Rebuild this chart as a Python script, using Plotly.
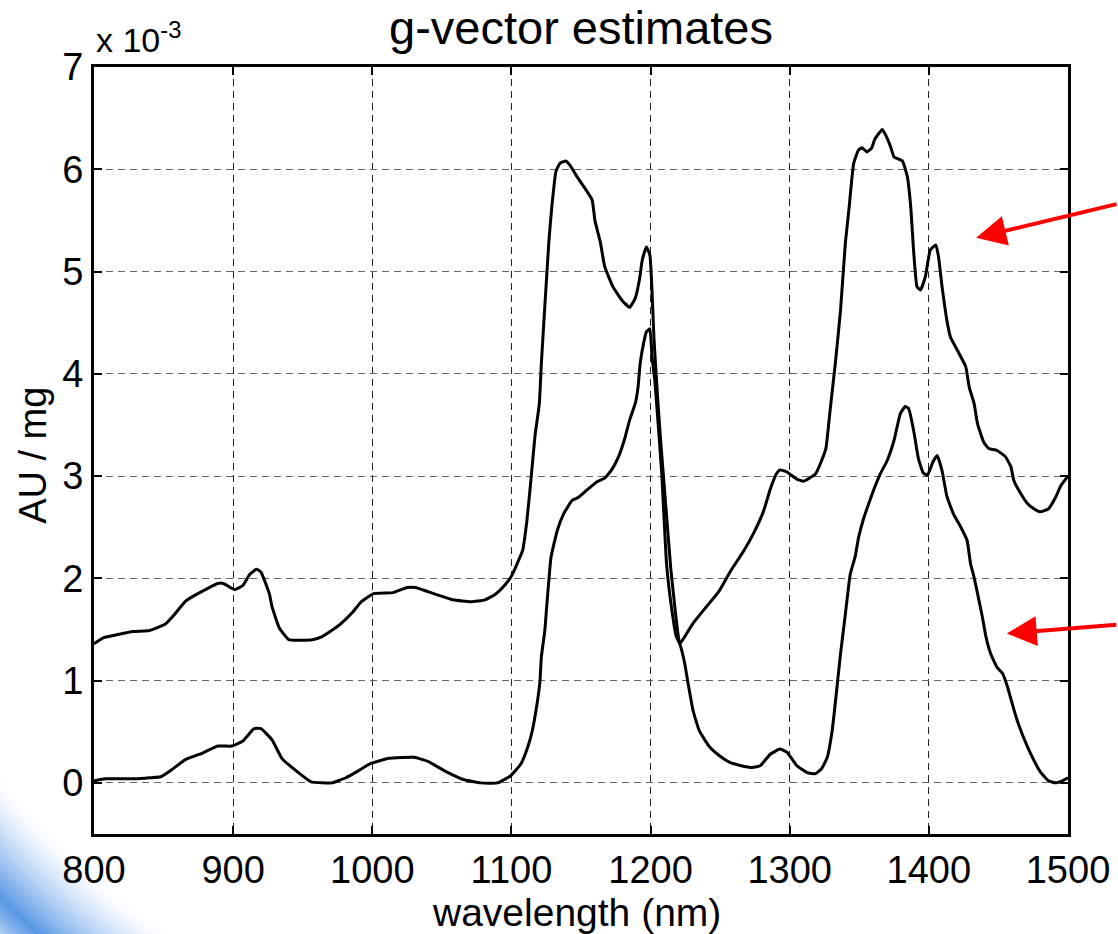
import math
import plotly.graph_objects as go

# ---- data (AU/mg, in units of 1e-3) ----
wl_upper = [800, 807, 817, 828, 840, 851, 858, 866, 876, 889, 893, 901, 907, 912, 917, 920, 926, 928, 933, 940,
            957, 964, 976, 986, 992, 1001, 1015, 1025, 1031, 1040, 1058, 1071, 1081, 1088, 1095, 1099.5, 1104, 1108,
            1111, 1114, 1117, 1120, 1121.5, 1124, 1127, 1129, 1132, 1135, 1139, 1142, 1147, 1152, 1158, 1160, 1164,
            1167, 1173, 1180, 1185, 1189, 1192, 1194, 1197, 1199.5, 1201, 1202.5, 1205.5, 1207.5, 1211, 1214.5, 1218,
            1221, 1225, 1230.5, 1240, 1249.5, 1257, 1267, 1274, 1281, 1286, 1290, 1293, 1298, 1305, 1310, 1318.5,
            1322, 1326, 1329, 1333, 1336.5, 1340, 1342.5, 1346, 1349.5, 1352, 1355.5, 1359, 1361, 1364, 1366.5,
            1369.5, 1372.5, 1375, 1381, 1384.5, 1387, 1389, 1391.5, 1394, 1397.5, 1401, 1405, 1407, 1409.5, 1413,
            1415.5, 1420.5, 1426.5, 1429, 1432.5, 1435, 1439.5, 1443, 1449, 1455, 1459, 1461, 1466, 1471, 1475.5,
            1480, 1486, 1491, 1495, 1500]
g_upper = [1.36, 1.42, 1.45, 1.48, 1.49, 1.55, 1.65, 1.78, 1.86, 1.95, 1.95, 1.89, 1.93, 2.04, 2.09, 2.06, 1.85, 1.72,
           1.52, 1.40, 1.40, 1.43, 1.54, 1.67, 1.77, 1.85, 1.86, 1.91, 1.91, 1.87, 1.79, 1.77, 1.79, 1.84, 1.93, 2.01,
           2.14, 2.27, 2.55, 2.96, 3.40, 3.70, 4.10, 4.66, 5.31, 5.63, 5.98, 6.06, 6.08, 6.04, 5.93, 5.83, 5.70, 5.50,
           5.28, 5.05, 4.85, 4.71, 4.65, 4.74, 4.92, 5.11, 5.24, 5.16, 4.82, 4.33, 3.68, 3.30, 2.70, 2.10, 1.65, 1.36,
           1.44, 1.56, 1.72, 1.88, 2.06, 2.27, 2.44, 2.65, 2.87, 3.01, 3.06, 3.04, 2.97, 2.95, 3.02, 3.12, 3.27, 3.64,
           4.13, 4.62, 5.28, 5.60, 6.06, 6.19, 6.21, 6.17, 6.21, 6.29, 6.35, 6.39, 6.32, 6.22, 6.12, 6.08, 5.93, 5.63,
           5.21, 4.85, 4.82, 4.95, 5.21, 5.26, 5.14, 4.85, 4.52, 4.36, 4.23, 4.07, 3.87, 3.71, 3.51, 3.33, 3.27, 3.25,
           3.19, 3.09, 2.96, 2.83, 2.73, 2.68, 2.65, 2.68, 2.79, 2.91, 3.00]

wl_lower = [800, 808, 817, 830, 840, 848, 856, 866, 876, 889, 899, 907, 915, 920, 928, 935, 946, 956, 964, 971, 981,
            989, 999, 1012, 1030, 1040, 1053, 1066, 1078, 1090, 1099.5, 1107, 1111.5, 1115, 1118.5, 1120.5, 1121.5,
            1124, 1125.5, 1127, 1128.5, 1133, 1137.5, 1143.5, 1148, 1154, 1161, 1167, 1172, 1177, 1181.5, 1185, 1189,
            1191, 1192.5, 1195, 1197, 1199.5, 1201, 1203, 1205.5, 1208, 1211.5, 1215, 1218.5, 1221, 1224.5, 1227,
            1230.5, 1235, 1242.5, 1250, 1257, 1264.5, 1273, 1279, 1286, 1293, 1298, 1305, 1312.5, 1318.5, 1323, 1327,
            1330.5, 1333, 1336.5, 1340, 1343.5, 1347, 1349.5, 1353, 1356, 1360.5, 1365, 1370, 1375, 1379.5, 1383,
            1385.5, 1389, 1392.5, 1396, 1399, 1403, 1406, 1409.5, 1413, 1418, 1423, 1427.5, 1430, 1432.5, 1435,
            1438.5, 1441, 1444.5, 1449, 1453, 1456.5, 1460, 1463.5, 1467, 1471, 1475.5, 1480, 1486, 1491, 1496, 1500]
g_lower = [0.02, 0.04, 0.04, 0.04, 0.05, 0.06, 0.13, 0.23, 0.28, 0.36, 0.36, 0.41, 0.53, 0.53, 0.42, 0.24, 0.11, 0.01,
           0.0, 0.0, 0.05, 0.11, 0.19, 0.24, 0.25, 0.21, 0.11, 0.03, 0.0, 0.0, 0.07, 0.19, 0.34, 0.51, 0.78, 0.99,
           1.23, 1.49, 1.75, 2.00, 2.21, 2.47, 2.63, 2.76, 2.79, 2.86, 2.94, 2.98, 3.06, 3.19, 3.37, 3.55, 3.71, 3.87,
           4.10, 4.30, 4.41, 4.44, 4.17, 3.94, 3.50, 3.03, 2.14, 1.72, 1.43, 1.36, 1.17, 0.97, 0.71, 0.51, 0.35, 0.26,
           0.20, 0.17, 0.15, 0.17, 0.28, 0.33, 0.30, 0.17, 0.10, 0.09, 0.14, 0.25, 0.51, 0.81, 1.26, 1.65, 2.04, 2.21,
           2.40, 2.58, 2.70, 2.87, 3.02, 3.15, 3.35, 3.61, 3.68, 3.66, 3.45, 3.17, 3.03, 3.01, 3.14, 3.20, 3.05, 2.80,
           2.62, 2.50, 2.37, 2.14, 2.01, 1.85, 1.62, 1.43, 1.26, 1.13, 1.07, 0.94, 0.77, 0.61, 0.48, 0.35, 0.22, 0.11,
           0.02, 0.0, 0.02, 0.05]

x_ticks = [800, 900, 1000, 1100, 1200, 1300, 1400, 1500]
y_ticks = [0, 1, 2, 3, 4, 5, 6, 7]

title_text = "g-vector estimates"
xlabel = "wavelength (nm)"
ylabel = "AU / mg"
exp_label = "x 10<sup>-3</sup>"

# arrow targets (data coords) : tip positions pointing at each curve
arrow_tips = [(1434, 5.33), (1456, 1.46)]
arrow_tails_px = [(142, -34), (111, -9)]

FONT = "Liberation Sans, Arial, Helvetica, sans-serif"
W, H = 1118, 934
L, R, T, B = 94, 50, 67, 100

fig = go.Figure()
for wl, g in [(wl_upper, g_upper), (wl_lower, g_lower)]:
    fig.add_trace(go.Scatter(x=wl, y=g, mode="lines",
                             line=dict(color="black", width=3, shape="spline", smoothing=0.4),
                             showlegend=False, hoverinfo="skip"))

axis_common = dict(showline=True, linecolor="black", linewidth=3, mirror="ticks",
                   ticks="inside", ticklen=8, tickwidth=2, tickcolor="black", automargin=False,
                   showgrid=True, griddash="7px,5px", gridwidth=1, zeroline=False,
                   tickfont=dict(family=FONT, size=38, color="black"))

fig.update_xaxes(range=[800, 1500], tickvals=x_ticks, gridcolor="#222", **axis_common)
fig.update_yaxes(range=[-0.5, 7], tickvals=y_ticks, gridcolor="#666", **axis_common)


def px2paper(px, py):
    return (px - L) / (W - L - R), (H - B - py) / (H - T - B)


# decorative slide swoosh (bottom-left): concentric thin opaque annular bands
cx, cy = 600.0, 300.0
r0, r1, dr = 764, 884, 3
rpk = 845
th = [math.radians(a) for a in [108 + i * 1.0 for i in range(46)]]
blue = (70, 140, 226)
r = r0
while r < r1:
    if r < rpk:
        a = 0.9 * ((r - r0) / (rpk - r0)) ** 1.4
    else:
        a = 0.9 * max(0.0, 1 - (r - rpk) / (r1 - rpk)) ** 0.7
    c = tuple(int(round(255 * (1 - a) + blue[k] * a)) for k in range(3))
    pts = [(cx + r * math.cos(q), cy + r * math.sin(q)) for q in th]
    pts += [(cx + (r + dr + 1.0) * math.cos(q), cy + (r + dr + 1.0) * math.sin(q)) for q in reversed(th)]
    pp = [px2paper(x, y) for x, y in pts]
    path = "M " + " L ".join(f"{x:.5f},{y:.5f}" for x, y in pp) + " Z"
    fig.add_shape(type="path", path=path, xref="paper", yref="paper", layer="below",
                  fillcolor=f"rgb({c[0]},{c[1]},{c[2]})", line=dict(width=0))
    r += dr

annotations = [
    dict(text=title_text, xref="paper", yref="paper", x=0.5, y=1, yanchor="bottom", yshift=11,
         showarrow=False, font=dict(family=FONT, size=47, color="black")),
    dict(text=exp_label, xref="paper", yref="paper", x=0, y=1, xanchor="left", yanchor="bottom",
         xshift=0, yshift=6, showarrow=False, font=dict(family=FONT, size=34, color="black")),
    dict(text=ylabel, xref="paper", yref="paper", x=0, y=0.493, xanchor="center", yanchor="middle",
         xshift=-61, textangle=-90,
         showarrow=False, font=dict(family=FONT, size=38, color="black")),
    dict(text=xlabel, xref="paper", yref="paper", x=0.495, y=0, xanchor="center", yanchor="middle",
         yshift=-78, showarrow=False, font=dict(family=FONT, size=39, color="black")),
]
for (tx, ty), (ax, ay) in zip(arrow_tips, arrow_tails_px):
    annotations.append(dict(x=tx, y=ty, xref="x", yref="y", ax=ax, ay=ay, text="",
                            showarrow=True, arrowhead=2, arrowsize=1.5, arrowwidth=4,
                            arrowcolor="red"))

fig.update_layout(width=W, height=H, margin=dict(l=L, r=R, t=T, b=B, pad=0, autoexpand=False),
                  paper_bgcolor="white", plot_bgcolor="white",
                  annotations=annotations, font=dict(family=FONT))

fig.write_html("out.html", config={"displayModeBar": False},
               post_script="document.body.style.margin='0px';document.body.style.overflow='hidden';")
